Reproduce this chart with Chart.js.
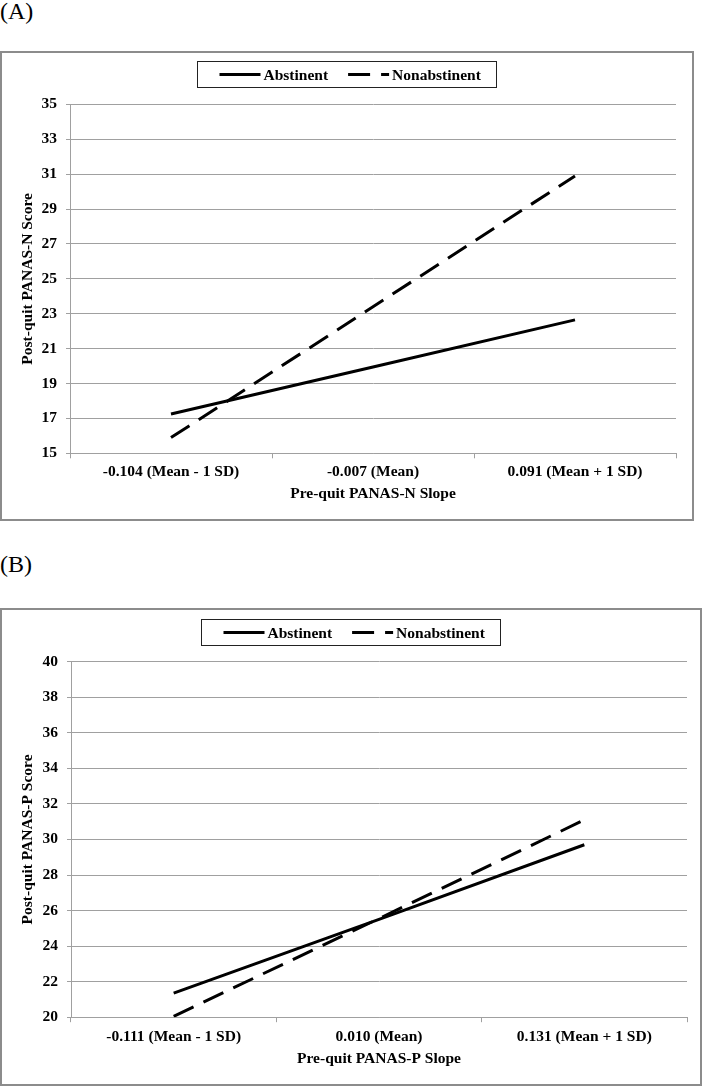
<!DOCTYPE html>
<html>
<head>
<meta charset="utf-8">
<script src="https://cdn.jsdelivr.net/npm/chart.js@4.4.0/dist/chart.umd.min.js"></script>
<style>
  body { margin: 0; background: #fff; width: 704px; height: 1087px; position: relative; overflow: hidden; }
  .lab { position: absolute; left: 0; font-family: 'Liberation Serif', serif; font-size: 24px; line-height: 24px; }
  .panel { position: absolute; left: 0; box-sizing: border-box; border: 2px solid #8c8c8c; }
  .panel canvas { position: absolute; left: 0; top: 0; }
</style>
</head>
<body>
<div class="lab" style="top:-1px">(A)</div>
<div class="panel" style="top:51px;width:694px;height:470px"><canvas id="chartA" width="690" height="466"></canvas></div>
<div class="lab" style="top:552px">(B)</div>
<div class="panel" style="top:608px;width:702px;height:478px"><canvas id="chartB" width="698" height="474"></canvas></div>
<script>
// Donnees
const seriesNames = ['Abstinent', 'Nonabstinent'];

const categoriesA = ['-0.104 (Mean - 1 SD)', '-0.007 (Mean)', '0.091 (Mean + 1 SD)'];
const abstinentA = [17.25, 19.95, 22.65];
const nonabstinentA = [15.9, 23.4, 30.9];
const yTicksA = [15, 35, 2];

const categoriesB = ['-0.111 (Mean - 1 SD)', '0.010 (Mean)', '0.131 (Mean + 1 SD)'];
const abstinentB = [21.35, 25.5, 29.7];
const nonabstinentB = [20.05, 25.55, 31.1];
const yTicksB = [20, 40, 2];

const serif = "'Liberation Serif', 'Times New Roman', serif";
const fontSize = 15.5;
Chart.defaults.color = '#000';
Chart.defaults.font.family = serif;

// Legende encadree, dessinee au-dessus du graphique
const boxLegend = {
    id: 'boxLegend',
    afterDraw(chart) {
        const ctx = chart.ctx;
        const sets = chart.data.datasets;
        ctx.save();
        ctx.font = 'bold ' + fontSize + 'px ' + serif;
        const sample = 41, gapText = 3, gapItem = 20, padL = 22, padR = 16, h = 26;
        let w = padL + padR;
        sets.forEach((ds, i) => {
            w += sample + gapText + ctx.measureText(ds.label).width + (i ? gapItem : 0);
        });
        const x0 = Math.round((chart.width - w) / 2) + 0.5;
        const y0 = Math.round(chart.chartArea.top - 43) + 0.5;
        ctx.strokeStyle = '#222';
        ctx.lineWidth = 1;
        ctx.strokeRect(x0, y0, Math.round(w), h);
        let x = x0 + padL;
        const cy = y0 + h / 2;
        sets.forEach((ds, i) => {
            if (i) x += gapItem;
            ctx.beginPath();
            ctx.setLineDash(ds.borderDash || []);
            ctx.lineWidth = ds.borderWidth;
            ctx.strokeStyle = ds.borderColor;
            ctx.moveTo(x, cy);
            ctx.lineTo(x + sample, cy);
            ctx.stroke();
            ctx.setLineDash([]);
            x += sample + gapText;
            ctx.fillStyle = '#000';
            ctx.textBaseline = 'middle';
            ctx.textAlign = 'left';
            ctx.fillText(ds.label, x, cy + 1);
            x += ctx.measureText(ds.label).width;
        });
        ctx.restore();
    }
};

function makeChart(id, categories, abstinent, nonabstinent, yTicks, xTitle, yTitle, box) {
    const ctx = document.getElementById(id).getContext('2d');
    const bold = { size: fontSize, weight: 'bold' };
    return new Chart(ctx, {
        type: 'line',
        data: {
            labels: categories,
            datasets: [{
                label: seriesNames[0],
                data: abstinent,
                borderColor: '#000',
                borderWidth: 3,
                pointRadius: 0,
                tension: 0,
            }, {
                label: seriesNames[1],
                data: nonabstinent,
                borderColor: '#000',
                borderWidth: 3,
                borderDash: [22, 11],
                pointRadius: 0,
                tension: 0,
            }],
        },
        options: {
            responsive: false,
            animation: false,
            devicePixelRatio: 1,
            layout: { padding: { left: 0, right: box.right, top: box.top, bottom: 0 } },
            plugins: {
                legend: { display: false },
                tooltip: { enabled: false },
            },
            scales: {
                x: {
                    offset: true,
                    afterFit: (s) => { s.height = box.xHeight; },
                    grid: { drawOnChartArea: false, drawTicks: true, tickLength: 5, color: '#a0a0a0', offset: true },
                    border: { display: true, color: '#a0a0a0', width: 1 },
                    ticks: { font: bold, padding: box.xPad, maxRotation: 0 },
                    title: { display: true, text: xTitle, font: bold, padding: { top: 0, bottom: 16 } },
                },
                y: {
                    min: yTicks[0],
                    max: yTicks[1],
                    afterFit: (s) => { s.width = box.yWidth; },
                    grid: { color: '#a0a0a0', tickLength: 4, drawTicks: true },
                    border: { display: true, color: '#a0a0a0', width: 1 },
                    ticks: { stepSize: yTicks[2], font: bold, padding: 9 },
                    title: { display: true, text: yTitle, font: bold, padding: { top: 17, bottom: 0 } },
                },
            },
        },
        plugins: [boxLegend],
    });
}

makeChart('chartA', categoriesA, abstinentA, nonabstinentA, yTicksA,
    'Pre-quit PANAS-N Slope', 'Post-quit PANAS-N Score',
    { yWidth: 68, right: 16, top: 51.4, xHeight: 65.7, xPad: 4 });

makeChart('chartB', categoriesB, abstinentB, nonabstinentB, yTicksB,
    'Pre-quit PANAS-P Slope', 'Post-quit PANAS-P Score',
    { yWidth: 69, right: 13, top: 51.7, xHeight: 66.8, xPad: 5 });
</script>
</body>
</html>
